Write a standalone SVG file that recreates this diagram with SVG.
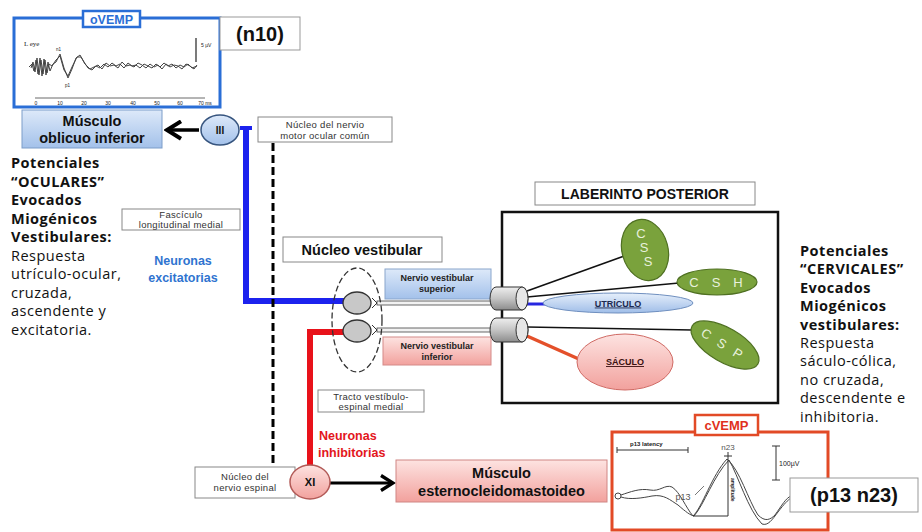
<svg xmlns="http://www.w3.org/2000/svg" width="922" height="532" viewBox="0 0 922 532">
<defs>
<linearGradient id="gBlue" x1="0" y1="0" x2="0" y2="1"><stop offset="0" stop-color="#dde9f9"/><stop offset="1" stop-color="#a3c1ea"/></linearGradient>
<linearGradient id="gPink" x1="0" y1="0" x2="0" y2="1"><stop offset="0" stop-color="#fde3e1"/><stop offset="1" stop-color="#f2a19d"/></linearGradient>
<linearGradient id="gGray" x1="0" y1="0" x2="0" y2="1"><stop offset="0" stop-color="#eeeeee"/><stop offset="0.5" stop-color="#c4c4c4"/><stop offset="1" stop-color="#8c8c8c"/></linearGradient>
<linearGradient id="gUtr" x1="0" y1="0" x2="0" y2="1"><stop offset="0" stop-color="#e6effb"/><stop offset="1" stop-color="#9fbde8"/></linearGradient>
<marker id="chev" viewBox="0 0 12 12" refX="10" refY="6" markerWidth="6" markerHeight="6" orient="auto" markerUnits="strokeWidth">
<path d="M2,1 L10,6 L2,11" fill="none" stroke="#000" stroke-width="2.2" stroke-linejoin="miter"/>
</marker>
<style>
.lbl{font-family:"Liberation Sans",Arial,sans-serif;font-size:9.5px;fill:#333;text-anchor:middle;letter-spacing:0.3px}
.box{fill:#fff;stroke:#888;stroke-width:1}
.hb{font-family:"Liberation Sans",Arial,sans-serif;font-weight:bold;fill:#111;text-anchor:middle}
.cal{font-family:"Open Sans","Noto Sans",sans-serif;font-size:14.5px;fill:#111;letter-spacing:0.5px}
.calb{font-weight:bold}
.grn{fill:#7aa23c;stroke:#4f7022;stroke-width:1.2}
.gt{font-family:"Liberation Sans",Arial,sans-serif;font-size:13px;fill:#e8f1dc;text-anchor:middle}
.wave{fill:none;stroke:#444;stroke-width:1}
.tiny{font-family:"Liberation Sans",Arial,sans-serif;font-size:6px;fill:#222}
</style>
</defs>
<rect width="922" height="532" fill="#fff"/>

<g id="connectors">
<path d="M246,128 V301 H346" fill="none" stroke="#1c22ee" stroke-width="6"/>
<path d="M240,128 H252" stroke="#1c22ee" stroke-width="4"/>
<path d="M344,332 H310 V466" fill="none" stroke="#e8121a" stroke-width="6"/>
<line x1="273" y1="143" x2="273" y2="466" stroke="#000" stroke-width="3" stroke-dasharray="8 4"/>
<line x1="199" y1="130" x2="167" y2="130" stroke="#000" stroke-width="3.5" marker-end="url(#chev)"/>
<line x1="330" y1="483" x2="393" y2="483" stroke="#000" stroke-width="3" marker-end="url(#chev)"/>
<rect x="377" y="301" width="114" height="4" fill="#f2f2f2" stroke="#444" stroke-width="0.8"/>
<rect x="377" y="328" width="114" height="4" fill="#f2f2f2" stroke="#444" stroke-width="0.8"/>
<path d="M372,298 L377,303 L372,308 M372,325 L377,330 L372,335" fill="none" stroke="#333" stroke-width="1"/>
</g>

<g id="ovemp">
<rect x="14" y="18" width="206" height="89" fill="#fff" stroke="#2a6ed6" stroke-width="3"/>
<rect x="83" y="11" width="57" height="16" fill="#fff" stroke="#2a6ed6" stroke-width="2.5"/>
<text x="111.5" y="24" class="hb" style="font-size:12.5px;fill:#2a6ed6">oVEMP</text>
<text x="24" y="46" style="font-family:'Liberation Serif',serif;font-size:7px;fill:#222">L eye</text>
<text x="56" y="51" class="tiny" style="font-size:4.5px">n1</text>
<text x="65" y="87" class="tiny" style="font-size:4.5px">p1</text>
<line x1="196" y1="38" x2="196" y2="62" stroke="#222" stroke-width="1.2"/>
<text x="201" y="47" class="tiny" style="font-size:5px">5 µV</text>
<path class="wave" d="M29,67 L32,64 L34,71 L36,60 L38,74 L40,58 L42,76 L44,59 L46,75 L48,62 L50,71 L53,64 L56,62 L60,54 L64,68 L68,78 L72,69 L76,58 L80,55 L84,62 L88,68 L92,70 L96,66 L100,68 L104,64 L108,67 L112,63 L116,66 L120,64 L124,68 L128,63 L132,66 L136,65 L140,68 L144,64 L148,66 L152,68 L156,64 L160,67 L164,63 L168,66 L172,64 L176,68 L180,65 L184,67 L188,64 L192,68 L197,66"/>
<path class="wave" d="M31,68 L33,62 L35,72 L37,58 L39,75 L41,60 L43,74 L45,60 L47,73 L49,64 L52,66 L56,60 L60,56 L64,70 L68,76 L72,67 L77,57 L81,57 L85,64 L90,69 L94,67 L98,65 L102,69 L106,63 L110,66 L114,65 L118,68 L122,62 L126,66 L130,65 L134,67 L138,63 L142,65 L146,68 L150,64 L154,67 L158,65 L162,69 L166,64 L170,67 L174,65 L178,66 L182,69 L186,64 L190,66 L194,69 L197,65"/>
<line x1="35" y1="98" x2="205" y2="98" stroke="#444" stroke-width="0.8"/>
<g class="tiny" style="font-size:5px" text-anchor="middle">
<text x="36" y="105">0</text><text x="60" y="105">10</text><text x="84" y="105">20</text><text x="108" y="105">30</text><text x="133" y="105">40</text><text x="157" y="105">50</text><text x="180" y="105">60</text><text x="205" y="105">70 ms</text>
</g>
</g>

<g id="n10">
<rect x="220" y="17" width="80" height="33" fill="#fff" stroke="#999" stroke-width="1"/>
<text x="260" y="41" class="hb" style="font-size:20px">(n10)</text>
</g>

<g id="musculo-oblicuo">
<rect x="22" y="110" width="140" height="38" fill="url(#gBlue)" stroke="#7d9dc9" stroke-width="1"/>
<text x="92" y="126" class="hb" style="font-size:14.5px">Músculo</text>
<text x="92" y="143" class="hb" style="font-size:14.5px">oblicuo inferior</text>
</g>

<g id="III">
<ellipse cx="220" cy="130" rx="19" ry="15" fill="url(#gBlue)" stroke="#37557f" stroke-width="1.5"/>
<text x="220" y="134" class="hb" style="font-size:10px">III</text>
</g>

<g id="nucleo-motor-ocular">
<rect x="258" y="117" width="134" height="25" class="box"/>
<text x="325" y="127.5" class="lbl">Núcleo del nervio</text>
<text x="325" y="138.5" class="lbl">motor ocular común</text>
</g>

<g id="fasciculo">
<rect x="122" y="209" width="118" height="21" class="box"/>
<text x="181" y="218" class="lbl">Fascículo</text>
<text x="181" y="228" class="lbl">longitudinal medial</text>
</g>

<g id="texto-ocular" class="cal">
<text x="11" y="168" class="calb">Potenciales</text>
<text x="11" y="186.5" class="calb">“OCULARES”</text>
<text x="11" y="205" class="calb">Evocados</text>
<text x="11" y="223.5" class="calb">Miogénicos</text>
<text x="11" y="242" class="calb">Vestibulares:</text>
<text x="11" y="260.5">Respuesta</text>
<text x="11" y="279">utrículo-ocular,</text>
<text x="11" y="297.5">cruzada,</text>
<text x="11" y="316">ascendente y</text>
<text x="11" y="334.5">excitatoria.</text>
</g>

<g id="neuronas-excitatorias">
<text x="183" y="265" class="hb" style="font-size:12.5px;fill:#2f74d0">Neuronas</text>
<text x="183" y="282" class="hb" style="font-size:12.5px;fill:#2f74d0">excitatorias</text>
</g>

<g id="nucleo-vestibular">
<rect x="283" y="237" width="159" height="25" class="box"/>
<text x="362" y="255" class="hb" style="font-size:14.5px">Núcleo vestibular</text>
<ellipse cx="357" cy="320" rx="25" ry="52" fill="none" stroke="#333" stroke-width="1.3" stroke-dasharray="6 3"/>
<ellipse cx="357" cy="303" rx="14" ry="11" fill="#c8c8c8" stroke="#333" stroke-width="1.3"/>
<ellipse cx="357" cy="331" rx="14" ry="11" fill="#c8c8c8" stroke="#333" stroke-width="1.3"/>
</g>

<g id="nervio-superior">
<rect x="385" y="269" width="106" height="30" fill="url(#gBlue)" stroke="#8aa6cc" stroke-width="1"/>
<text x="437" y="281" class="hb" style="font-size:9px;fill:#222">Nervio vestibular</text>
<text x="437" y="292" class="hb" style="font-size:9px;fill:#222">superior</text>
</g>

<g id="nervio-inferior">
<rect x="383" y="337" width="108" height="28" fill="url(#gPink)" stroke="#d48a88" stroke-width="1"/>
<text x="437" y="349" class="hb" style="font-size:9px;fill:#222">Nervio vestibular</text>
<text x="437" y="360" class="hb" style="font-size:9px;fill:#222">inferior</text>
</g>

<g id="laberinto">
<rect x="535" y="182" width="220" height="23" class="box"/>
<text x="645" y="199" class="hb" style="font-size:14px">LABERINTO POSTERIOR</text>
<rect x="502" y="212" width="276" height="191" fill="none" stroke="#111" stroke-width="2.5"/>
<line x1="527" y1="291" x2="627" y2="255" stroke="#111" stroke-width="1.6"/>
<line x1="527" y1="297" x2="679" y2="283" stroke="#111" stroke-width="1.6"/>
<line x1="527" y1="327" x2="692" y2="330" stroke="#111" stroke-width="1.6"/>
<line x1="527" y1="304" x2="546" y2="304" stroke="#2626e0" stroke-width="3"/>
<line x1="527" y1="336" x2="581" y2="360" stroke="#e4502a" stroke-width="3.5"/>
</g>

<g id="cilindro-superior">
<path d="M496,287 H522 A6,11.5 0 0 1 522,310 H496 A6,11.5 0 0 1 496,287 Z" fill="url(#gGray)" stroke="#333" stroke-width="1"/>
<ellipse cx="522" cy="298.5" rx="6" ry="11.5" fill="#e6e6e6" stroke="#333" stroke-width="1"/>
</g>
<g id="cilindro-inferior">
<path d="M496,318 H522 A6,12 0 0 1 522,342 H496 A6,12 0 0 1 496,318 Z" fill="url(#gGray)" stroke="#333" stroke-width="1"/>
<ellipse cx="522" cy="330" rx="6" ry="12" fill="#e6e6e6" stroke="#333" stroke-width="1"/>
</g>

<g id="CSS">
<ellipse cx="645" cy="250" rx="23" ry="31" transform="rotate(-15 645 250)" class="grn"/>
<text x="641" y="238" class="gt">C</text>
<text x="644" y="252" class="gt">S</text>
<text x="648" y="266" class="gt">S</text>
</g>
<g id="CSH">
<ellipse cx="717" cy="282" rx="40" ry="13" class="grn"/>
<text x="694" y="287" class="gt">C</text>
<text x="716" y="287" class="gt">S</text>
<text x="738" y="287" class="gt">H</text>
</g>
<g id="CSP">
<ellipse cx="725" cy="345" rx="38" ry="17" transform="rotate(30 725 345)" class="grn"/>
<g transform="rotate(32 722 343)">
<text x="704" y="348" class="gt">C</text>
<text x="722" y="348" class="gt">S</text>
<text x="741" y="348" class="gt">P</text>
</g>
</g>

<g id="utriculo">
<ellipse cx="618" cy="303" rx="75" ry="10" fill="url(#gUtr)" stroke="#6f8fbf" stroke-width="1"/>
<text x="618" y="306.5" class="hb" style="font-size:9px;fill:#1c2a50;text-decoration:underline">UTRÍCULO</text>
</g>
<g id="saculo">
<ellipse cx="625" cy="362" rx="48" ry="28" fill="url(#gPink)" stroke="#d06a64" stroke-width="1"/>
<text x="625" y="365" class="hb" style="font-size:9px;fill:#3a1010;text-decoration:underline">SÁCULO</text>
</g>

<g id="texto-cervical" class="cal">
<text x="800" y="256" class="calb">Potenciales</text>
<text x="800" y="274.4" class="calb">“CERVICALES”</text>
<text x="800" y="292.8" class="calb">Evocados</text>
<text x="800" y="311.2" class="calb">Miogénicos</text>
<text x="800" y="329.6" class="calb">vestibulares:</text>
<text x="800" y="348">Respuesta</text>
<text x="800" y="366.4">sáculo-cólica,</text>
<text x="800" y="384.8">no cruzada,</text>
<text x="800" y="403.2">descendente e</text>
<text x="800" y="421.6">inhibitoria.</text>
</g>

<g id="tracto">
<rect x="318" y="390" width="106" height="22" class="box"/>
<text x="371" y="399.5" class="lbl">Tracto vestíbulo-</text>
<text x="371" y="409.5" class="lbl">espinal medial</text>
</g>

<g id="neuronas-inhibitorias">
<text x="319" y="440" class="hb" style="font-size:12.5px;fill:#e3161c;text-anchor:start">Neuronas</text>
<text x="318" y="457" class="hb" style="font-size:12.5px;fill:#e3161c;text-anchor:start">inhibitorias</text>
</g>

<g id="nucleo-espinal">
<rect x="195" y="467" width="100" height="31" class="box"/>
<text x="245" y="480" class="lbl">Núcleo del</text>
<text x="245" y="491" class="lbl">nervio espinal</text>
</g>

<g id="XI">
<ellipse cx="310" cy="482" rx="20" ry="17" fill="url(#gPink)" stroke="#b25a57" stroke-width="1.5"/>
<text x="310" y="486" class="hb" style="font-size:11px">XI</text>
</g>

<g id="musculo-ecm">
<rect x="396" y="460" width="211" height="42" fill="url(#gPink)" stroke="#d08684" stroke-width="1"/>
<text x="501.5" y="478" class="hb" style="font-size:14.5px">Músculo</text>
<text x="501.5" y="496" class="hb" style="font-size:14.5px">esternocleidomastoideo</text>
</g>

<g id="cvemp">
<rect x="612" y="432" width="216" height="98" fill="#fff" stroke="#e24a26" stroke-width="3"/>
<rect x="695" y="415" width="63" height="20" fill="#fff" stroke="#e24a26" stroke-width="2.5"/>
<text x="726.5" y="430" class="hb" style="font-size:13px;fill:#e03020">cVEMP</text>
<path d="M617,447 V453 M617,450 H688 M688,447 V453" stroke="#333" stroke-width="1" fill="none"/>
<text x="630" y="446" class="tiny" style="font-size:6px;font-weight:bold">p13 latency</text>
<text x="728" y="450" class="tiny" style="font-size:8px;fill:#555" text-anchor="middle">n23</text>
<path d="M728,452 V460 M724,456 H732" stroke="#333" stroke-width="1"/>
<circle cx="618" cy="496" r="3" fill="#fff" stroke="#444" stroke-width="1"/>
<path class="wave" d="M621,495 C630,492 640,488 650,490 C660,492 665,484 672,487 C680,492 686,508 693,516 C702,508 712,475 727,459 C740,470 748,500 758,515 C765,522 770,520 775,515 C782,505 786,498 791,496"/>
<path class="wave" d="M621,497 C630,500 642,498 652,496 C664,494 670,500 678,505 C686,512 690,515 694,516 C704,505 714,475 729,460 C738,475 748,510 762,524 C768,526 772,520 778,512 C784,504 788,500 791,498"/>
<path d="M693,516 H728 V460" fill="none" stroke="#333" stroke-width="1"/>
<text x="683" y="500" class="tiny" style="font-size:9px;fill:#555" text-anchor="middle">p13</text>
<path d="M695,495 L704,486" stroke="#555" stroke-width="0.8"/>
<text x="0" y="0" class="tiny" style="font-size:5px;font-weight:bold" transform="translate(731,478) rotate(90)">amplitude</text>
<path d="M776,446 V480 M772,446 H780 M772,480 H780" stroke="#333" stroke-width="1"/>
<text x="779" y="466" class="tiny" style="font-size:7px">100µV</text>
</g>

<g id="p13n23">
<rect x="790" y="478" width="128" height="34" fill="#fff" stroke="#999" stroke-width="1"/>
<text x="854" y="502" class="hb" style="font-size:20px">(p13 n23)</text>
</g>
</svg>
